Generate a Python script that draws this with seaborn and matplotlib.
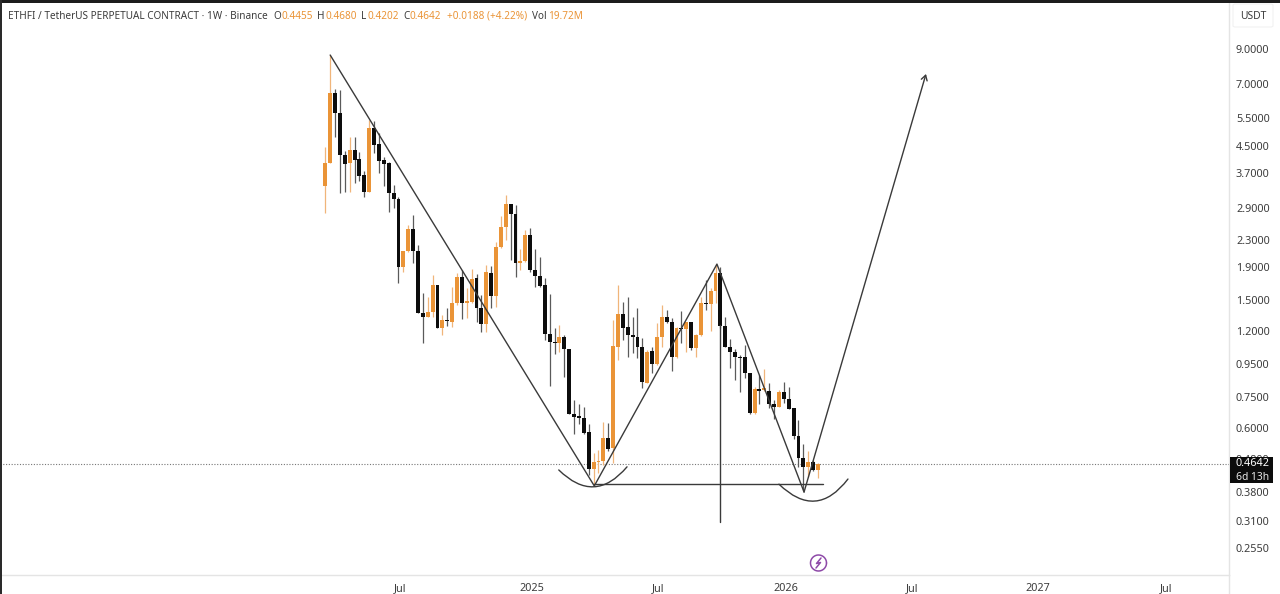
import matplotlib
matplotlib.use("Agg")
import matplotlib.dates as mdates
import matplotlib.pyplot as plt
import numpy as np
import pandas as pd
import seaborn as sns
from matplotlib.lines import Line2D
from matplotlib.patches import FancyBboxPatch, Rectangle

# Weekly candles
FIRST_WEEK = "2024-03-11"
open_prices = [3.38, 3.99, 6.57, 5.70, 4.22, 3.99, 4.37, 4.10, 3.66, 3.24, 5.12, 4.57, 4.07, 3.99, 3.22, 3.08, 1.90,
               2.13, 2.49, 2.13, 1.365, 1.327, 1.375, 1.667, 1.227, 1.299, 1.28, 1.466, 1.765, 1.466, 1.477, 1.752,
               1.415, 1.262, 1.817, 1.54, 2.19, 2.53, 2.975, 2.77, 1.95, 1.98, 2.384, 1.856, 1.778, 1.667, 1.175,
               1.11, 1.10, 1.15, 1.055, 0.664, 0.655, 0.645, 0.585, 0.448, 0.471, 0.475, 0.559, 0.52, 1.071, 1.356,
               1.236, 1.167, 1.15, 1.071, 0.828, 1.04, 0.95, 1.15, 1.327, 1.28, 0.997, 1.227, 1.218, 1.28, 1.063,
               1.167, 1.466, 1.455, 1.598, 1.817, 1.245, 1.071, 1.033, 0.997, 0.997, 0.889, 0.669, 0.794, 0.79,
               0.783, 0.711, 0.70, 0.777, 0.738, 0.692, 0.568, 0.485, 0.455, 0.471, 0.4455]
high_prices = [4.47, 8.62, 6.76, 6.72, 4.34, 4.80, 4.80, 4.31, 3.77, 5.42, 5.38, 4.94, 4.16, 4.02, 3.41, 3.13, 2.13,
               2.56, 2.75, 2.22, 1.575, 1.53, 1.79, 1.667, 1.346, 1.415, 1.644, 1.817, 1.856, 1.632, 1.87, 1.804,
               1.55, 1.922, 1.908, 2.27, 2.73, 3.17, 2.975, 2.95, 2.157, 2.47, 2.50, 2.157, 2.04, 1.752, 1.564,
               1.227, 1.254, 1.167, 1.055, 0.733, 0.711, 0.70, 0.618, 0.502, 0.513, 0.627, 0.623, 1.299, 1.667,
               1.477, 1.53, 1.327, 1.415, 1.14, 1.048, 1.071, 1.27, 1.445, 1.395, 1.318, 1.236, 1.385, 1.28, 1.28,
               1.175, 1.53, 1.728, 1.632, 1.936, 1.897, 1.327, 1.134, 1.055, 1.011, 1.087, 0.889, 0.805, 0.877,
               0.915, 0.828, 0.733, 0.788, 0.834, 0.805, 0.692, 0.636, 0.535, 0.509, 0.478, 0.468]
low_prices = [2.79, 3.99, 4.80, 3.22, 3.24, 3.24, 3.46, 3.51, 3.13, 3.24, 4.28, 3.71, 3.38, 2.81, 2.89, 1.69, 1.83,
              2.11, 1.95, 1.365, 1.10, 1.327, 1.327, 1.227, 1.167, 1.245, 1.236, 1.445, 1.308, 1.318, 1.466, 1.28,
              1.192, 1.192, 1.415, 1.425, 2.17, 2.30, 1.994, 1.765, 1.856, 1.966, 1.83, 1.644, 1.644, 1.126, 0.81,
              1.02, 1.033, 0.864, 0.664, 0.575, 0.618, 0.575, 0.429, 0.397, 0.436, 0.461, 0.509, 0.468, 0.976,
              1.126, 0.997, 1.026, 0.99, 0.80, 0.828, 0.889, 0.942, 1.071, 1.27, 0.902, 0.99, 1.10, 1.033, 1.048,
              0.997, 1.16, 1.395, 1.20, 1.466, 1.227, 1.071, 0.922, 0.846, 0.777, 0.858, 0.664, 0.664, 0.711,
              0.783, 0.692, 0.641, 0.697, 0.716, 0.687, 0.555, 0.455, 0.386, 0.423, 0.442, 0.4202]
close_prices = [3.99, 6.57, 5.70, 4.22, 3.96, 4.37, 4.07, 3.63, 3.24, 5.12, 4.53, 4.04, 3.96, 3.22, 3.08, 1.90, 2.13,
                2.49, 2.13, 1.365, 1.327, 1.375, 1.667, 1.227, 1.299, 1.29, 1.466, 1.765, 1.466, 1.487, 1.74, 1.415,
                1.262, 1.83, 1.54, 2.19, 2.53, 2.975, 2.77, 1.95, 1.98, 2.384, 1.856, 1.778, 1.655, 1.175, 1.11,
                1.10, 1.15, 1.055, 0.664, 0.65, 0.645, 0.58, 0.448, 0.471, 0.475, 0.559, 0.517, 1.079, 1.356, 1.227,
                1.167, 1.15, 1.071, 0.834, 1.033, 0.95, 1.15, 1.327, 1.28, 0.997, 1.227, 1.218, 1.28, 1.063, 1.167,
                1.466, 1.455, 1.598, 1.817, 1.245, 1.071, 1.033, 0.997, 0.99, 0.889, 0.669, 0.794, 0.783, 0.80,
                0.711, 0.70, 0.777, 0.738, 0.687, 0.568, 0.485, 0.455, 0.471, 0.445, 0.4642]

# Hand drawn lines on the chart
zigzag_dates = ["2024-03-18", "2025-04-01", "2025-09-24", "2026-01-27"]
zigzag_prices = [8.62, 0.397, 1.936, 0.38]
arrow_dates = ["2026-01-27", "2026-07-21"]
arrow_prices = [0.38, 7.53]
neckline_dates = ["2025-04-01", "2026-02-23"]
neckline_prices = [0.402, 0.402]
vertical_dates = ["2025-09-29", "2025-09-29"]
vertical_prices = [0.3066, 1.25]
left_arc_dates = ["2025-02-09", "2025-05-18"]
left_arc_prices = [0.445, 0.455]
right_arc_dates = ["2025-12-22", "2026-03-31"]
right_arc_prices = [0.402, 0.417]

last_price = 0.4642
price_ticks = [9.0, 7.0, 5.5, 4.5, 3.7, 2.9, 2.3, 1.9, 1.5, 1.2, 0.95, 0.75, 0.6, 0.48, 0.38, 0.31, 0.255]
time_tick_dates = ["2024-06-27", "2025-01-01", "2025-07-01", "2026-01-01", "2026-07-01", "2026-12-29", "2027-07-01"]
time_tick_labels = ["Jul", "2025", "Jul", "2026", "Jul", "2027", "Jul"]

ORANGE = "#ea9437"
BLACK = "#0d0d0d"
LINE = "#3a3a3a"
TEXT = "#3c3c3c"
W, H = 1280, 594


def fx(px):
    return px / W


def fy(py):
    return 1 - py / H


def dn(dates):
    return mdates.date2num(pd.to_datetime(dates))


sns.set_theme(style="white")
plt.rcParams["font.family"] = ["Noto Sans", "DejaVu Sans"]

fig = plt.figure(figsize=(12.8, 5.94), dpi=100, facecolor="white")
ax = fig.add_axes([0, 1 - 575 / H, 1229 / W, 572 / H])
ax.set_yscale("log")

week_x = dn(pd.date_range(FIRST_WEEK, periods=len(open_prices), freq="7D"))
candles = pd.DataFrame({"x": week_x, "o": open_prices, "h": high_prices, "l": low_prices, "c": close_prices})
candles["up"] = candles["c"] >= candles["o"]

for is_up, group in candles.groupby("up"):
    body = ORANGE if is_up else BLACK
    wick = "#f0b57a" if is_up else "#5a5a5a"
    ax.vlines(group["x"], group["l"], group["h"], color=wick, lw=0.9, zorder=2)
    tops = group[["o", "c"]].max(axis=1)
    bottoms = group[["o", "c"]].min(axis=1)
    ax.bar(group["x"], tops - bottoms, bottom=bottoms, width=5.6, color=body, linewidth=0, zorder=3)

ax.axhline(last_price, color="#777777", lw=0.8, ls=(0, (1, 1.5)), zorder=1)

for dates, prices in [(zigzag_dates, zigzag_prices), (neckline_dates, neckline_prices),
                      (vertical_dates, vertical_prices)]:
    line = pd.DataFrame({"x": dn(dates), "y": prices})
    sns.lineplot(data=line, x="x", y="y", ax=ax, color=LINE, lw=1.0, estimator=None, sort=False, zorder=4)

ax.annotate("", xy=(dn(arrow_dates)[1], arrow_prices[1]), xytext=(dn(arrow_dates)[0], arrow_prices[0]),
            arrowprops=dict(arrowstyle="->,head_length=0.3,head_width=0.18", color=LINE, lw=1.0,
                            shrinkA=0, shrinkB=0), zorder=4)

for dates, prices, rad in [(left_arc_dates, left_arc_prices, 0.54), (right_arc_dates, right_arc_prices, 0.565)]:
    ax.annotate("", xy=(dn(dates)[1], prices[1]), xytext=(dn(dates)[0], prices[0]),
                arrowprops=dict(arrowstyle="-", color=LINE, lw=1.0, shrinkA=0, shrinkB=0,
                                connectionstyle=f"arc3,rad={rad}"), zorder=4)

# Axis ranges follow the pixel grid of the screenshot
ax.set_xlim(dn(["2026-02-16"])[0] - 1173.8, dn(["2026-02-16"])[0] + 589.8)
ax.set_ylim(0.2101, 12.5)
ax.set_xlabel("")
ax.set_ylabel("")

ax.yaxis.tick_right()
ax.set_yticks(price_ticks)
ax.set_yticklabels([f"{p:.4f}" for p in price_ticks])
ax.minorticks_off()
ax.tick_params(axis="y", length=0, pad=5, labelsize=7.8, labelcolor=TEXT)
ax.set_xticks(dn(time_tick_dates))
ax.set_xticklabels(time_tick_labels)
ax.tick_params(axis="x", length=0, pad=6, labelsize=7.8, labelcolor=TEXT)
for label, text in zip(ax.get_xticklabels(), time_tick_labels):
    if text.isdigit():
        label.set_fontweight("bold")

for side in ["top", "left"]:
    ax.spines[side].set_visible(False)
for side in ["right", "bottom"]:
    ax.spines[side].set_color("#e4e4e4")
    ax.spines[side].set_linewidth(1)

# Frame of the screenshot
fig.add_artist(Rectangle((0, fy(3)), 1, 3 / H, transform=fig.transFigure, color="#1c1c1c", lw=0, zorder=5))
fig.add_artist(Rectangle((0, 0), 2 / W, 1, transform=fig.transFigure, color="#2a2a2a", lw=0, zorder=5))
fig.add_artist(Line2D([fx(1229), fx(1229)], [0, fy(575)], color="#e4e4e4", lw=1, zorder=1))

# Header row
header = [(8, "ETHFI / TetherUS PERPETUAL CONTRACT · 1W · Binance", TEXT), (273, "O", TEXT), (281, "0.4455", ORANGE),
          (317, "H", TEXT), (325, "0.4680", ORANGE), (361, "L", TEXT), (367, "0.4202", ORANGE), (403, "C", TEXT),
          (410, "0.4642", ORANGE), (447, "+0.0188 (+4.22%)", ORANGE), (532, "Vol", TEXT), (548, "19.72M", ORANGE)]
for px, text, color in header:
    fig.text(fx(px), fy(16.5), text, color=color, fontsize=7.2, va="center", ha="left", zorder=6)

# USDT box
fig.add_artist(FancyBboxPatch((fx(1233), fy(27)), 40 / W, 23 / H, boxstyle="round,pad=0,rounding_size=0.002",
                              transform=fig.transFigure, fc="white", ec="#f1f1f1", lw=0.8, zorder=5))
fig.text(fx(1253), fy(16.5), "USDT", color=TEXT, fontsize=7.4, ha="center", va="center", zorder=6)

# Last price tag
fig.add_artist(Rectangle((fx(1230), fy(483)), 43 / W, 26 / H, transform=fig.transFigure, color="#0c0c0c", lw=0, zorder=5))
fig.text(fx(1253), fy(464), "0.4642", color="white", fontsize=7.8, fontweight="bold", ha="center", va="center", zorder=6)
fig.text(fx(1253), fy(477), "6d 13h", color="#e8e8e8", fontsize=7.4, ha="center", va="center", zorder=6)

# Bolt marker under the chart
radius = np.linspace(0, 2 * np.pi, 60)
fig.add_artist(Line2D(fx(818.5 + 8 * np.cos(radius)), fy(563 + 8 * np.sin(radius)), color="#8e4aa8", lw=1.1, zorder=5))
fig.add_artist(Line2D(fx(np.array([821, 816.5, 820.5, 816])), fy(np.array([558, 563.5, 562.5, 568])),
                      color="#8e4aa8", lw=1.1, zorder=5))

fig.savefig("out.png", dpi=100)
plt.close(fig)
